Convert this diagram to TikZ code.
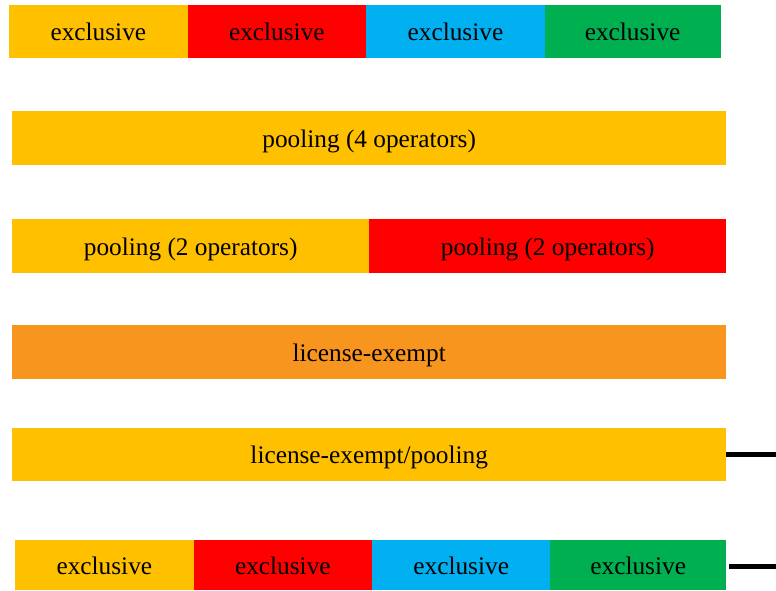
\documentclass[tikz,border=0pt]{standalone}
\usepackage{fontspec}
\setmainfont{Liberation Serif}
\definecolor{chanyellow}{HTML}{FFC000}
\definecolor{chanred}{HTML}{FF0000}
\definecolor{chanblue}{HTML}{00B0F0}
\definecolor{changreen}{HTML}{00B050}
\definecolor{chanorange}{HTML}{F7951F}
\begin{document}
\begin{tikzpicture}[x=1pt,y=-1pt,
    band/.style={rectangle, anchor=north west, inner sep=0pt, draw=none,
        text height=24pt, text depth=5pt,
        font=\fontsize{25.3}{28}\selectfont},
    feed/.style={line width=5pt}]
    % Fix the page size
    \useasboundingbox[fill=white] (0,0) rectangle (776,590);

    % Top row: four exclusive channels
    \node[band, fill=chanyellow, minimum width=178.3pt, minimum height=52.3pt] (exA) at (9,5) {exclusive};
    \node[band, fill=chanred, minimum width=178.7pt, minimum height=52.3pt] (exB) at (187.3,5) {exclusive};
    \node[band, fill=chanblue, minimum width=178.5pt, minimum height=52.3pt] (exC) at (366,5) {exclusive};
    \node[band, fill=changreen, minimum width=175.8pt, minimum height=52.3pt] (exD) at (544.5,5) {exclusive};

    % Pooling among all four operators
    \node[band, fill=chanyellow, minimum width=714pt, minimum height=54.3pt] (poolfour) at (12,110.7) {pooling (4 operators)};

    % Two pools of two operators
    \node[band, fill=chanyellow, minimum width=357pt, minimum height=54pt] (poolA) at (12,218.3) {pooling (2 operators)};
    \node[band, fill=chanred, minimum width=357pt, minimum height=54pt] (poolB) at (369,218.3) {pooling (2 operators)};

    % License-exempt band
    \node[band, fill=chanorange, minimum width=714pt, minimum height=54.4pt] (exempt) at (12,324.3) {license-exempt};

    % License-exempt with pooling
    \node[band, fill=chanyellow, minimum width=714pt, minimum height=53pt] (exemptpool) at (12,427.3) {license-exempt/pooling};

    % Bottom row: four exclusive channels again
    \node[band, fill=chanyellow, minimum width=178.3pt, minimum height=50.7pt] (lowA) at (15,539.3) {exclusive};
    \node[band, fill=chanred, minimum width=178.7pt, minimum height=50.7pt] (lowB) at (193.3,539.3) {exclusive};
    \node[band, fill=chanblue, minimum width=178pt, minimum height=50.7pt] (lowC) at (372,539.3) {exclusive};
    \node[band, fill=changreen, minimum width=176pt, minimum height=50.7pt] (lowD) at (550,539.3) {exclusive};

    % Lines leaving on the right
    \coordinate (exemptend) at (776,454.3);
    \coordinate (lowend) at (776,566);
    \draw[feed] (exemptpool.east |- exemptend) -- (exemptend);
    \draw[feed, shorten <=3pt] (lowD.east |- lowend) -- (lowend);

\end{tikzpicture}
\end{document}
